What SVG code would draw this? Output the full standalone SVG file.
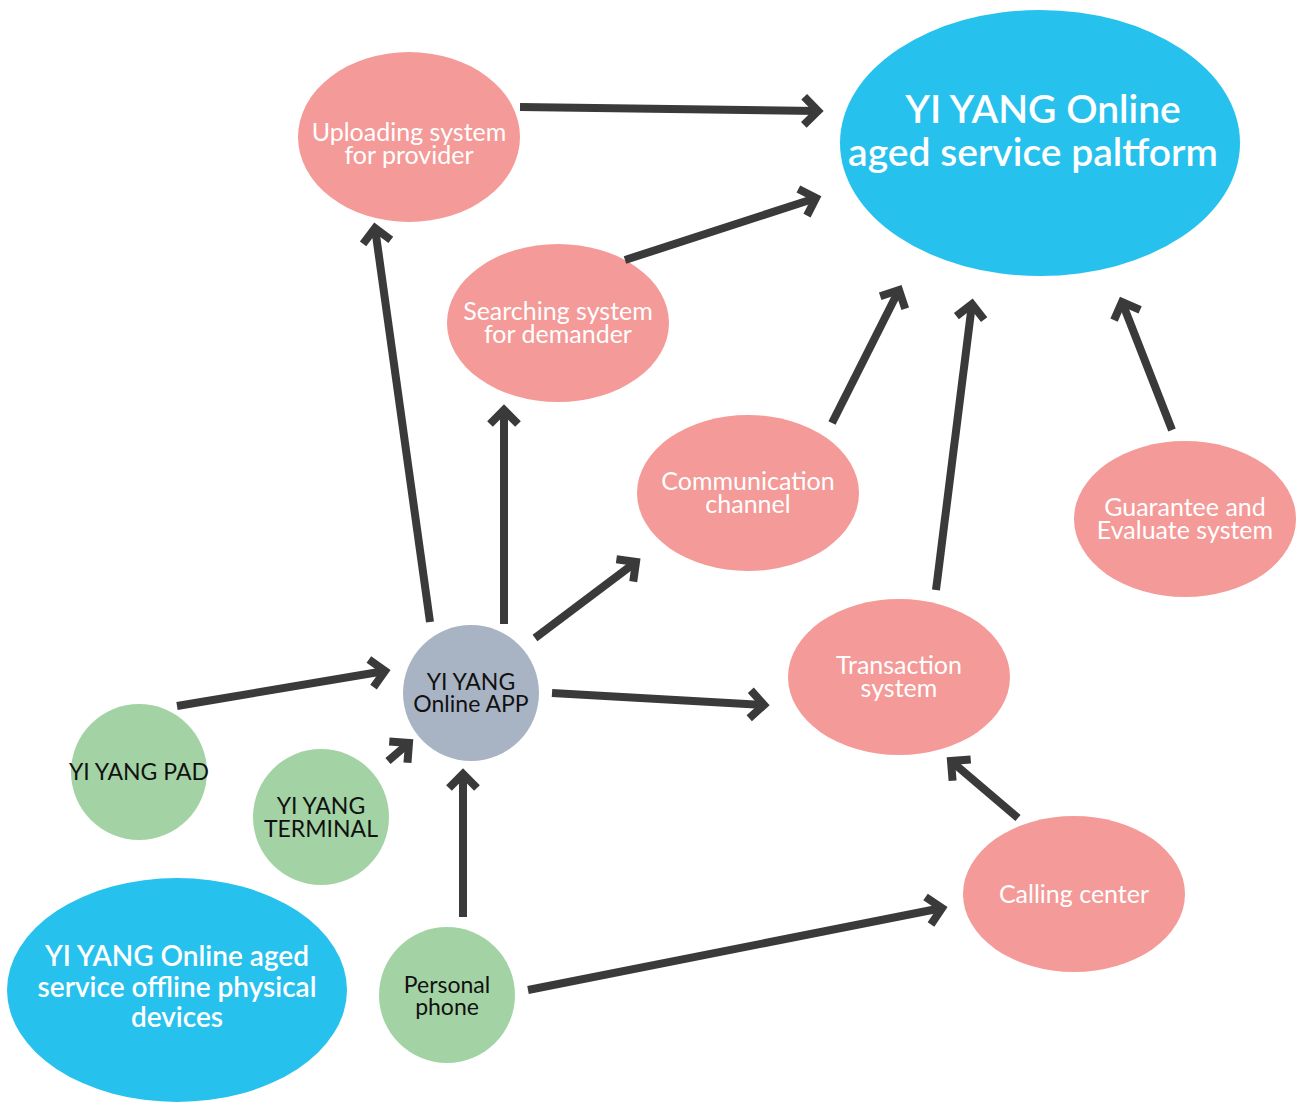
<svg xmlns="http://www.w3.org/2000/svg" width="1298" height="1102" viewBox="0 0 1298 1102">
<style>
.pink{fill:#f49a98}
.blue{fill:#27c1ee}
.green{fill:#a3d3a4}
.gray{fill:#a8b4c4}
text{font-family:Lato,"Open Sans","Liberation Sans",sans-serif;text-anchor:middle}
.wt{fill:#ffffff;font-size:25px}
.bk{fill:#111111;font-size:23px}
.big{fill:#ffffff;font-size:39px;font-weight:600}
.mid{fill:#ffffff;font-size:28px;font-weight:600}
.conn line{stroke:#3a3a3a;stroke-width:8;marker-end:url(#ah)}
</style>
<defs>
<marker id="ah" markerUnits="userSpaceOnUse" viewBox="-20 -20 26 40" markerWidth="26" markerHeight="40" refX="0" refY="0" orient="auto">
<path d="M-14,-14 L0,0 L-14,14" fill="none" stroke="#3a3a3a" stroke-width="8"/>
</marker>
</defs>
<rect width="1298" height="1102" fill="#ffffff"/>
<g id="platform"><ellipse class="blue" cx="1040" cy="143" rx="200" ry="133"/><text class="big" x="1043" y="123">YI YANG Online</text><text class="big" x="1033" y="166">aged service paltform</text></g>
<g id="uploading"><ellipse class="pink" cx="409" cy="137" rx="111" ry="85"/><text class="wt" x="409" y="141">Uploading system</text><text class="wt" x="409" y="164">for provider</text></g>
<g id="searching"><ellipse class="pink" cx="558" cy="323" rx="111" ry="79"/><text class="wt" x="558" y="320">Searching system</text><text class="wt" x="558" y="343">for demander</text></g>
<g id="communication"><ellipse class="pink" cx="748" cy="493" rx="111" ry="78"/><text class="wt" x="748" y="490">Communication</text><text class="wt" x="748" y="513">channel</text></g>
<g id="guarantee"><ellipse class="pink" cx="1185" cy="519" rx="111" ry="78"/><text class="wt" x="1185" y="516">Guarantee and</text><text class="wt" x="1185" y="539">Evaluate system</text></g>
<g id="transaction"><ellipse class="pink" cx="899" cy="677" rx="111" ry="78"/><text class="wt" x="899" y="674">Transaction</text><text class="wt" x="899" y="697">system</text></g>
<g id="calling"><ellipse class="pink" cx="1074" cy="894" rx="111" ry="78"/><text class="wt" x="1074" y="903">Calling center</text></g>
<g id="app"><circle class="gray" cx="471" cy="693" r="68"/><text class="bk" x="471" y="690">YI YANG</text><text class="bk" x="471" y="712">Online APP</text></g>
<g id="pad"><circle class="green" cx="139" cy="772" r="68"/><text class="bk" x="139" y="780">YI YANG PAD</text></g>
<g id="terminal"><circle class="green" cx="321" cy="817" r="68"/><text class="bk" x="321" y="814">YI YANG</text><text class="bk" x="321" y="837">TERMINAL</text></g>
<g id="phone"><circle class="green" cx="447" cy="995" r="68"/><text class="bk" x="447" y="993">Personal</text><text class="bk" x="447" y="1015">phone</text></g>
<g id="offline"><ellipse class="blue" cx="177" cy="990" rx="170" ry="112"/><text class="mid" x="177" y="966">YI YANG Online aged</text><text class="mid" x="177" y="997">service offline physical</text><text class="mid" x="177" y="1027">devices</text></g>
<g id="connectors" class="conn">
<line x1="520" y1="107" x2="818" y2="111"/>
<line x1="625" y1="260" x2="816" y2="198"/>
<line x1="832" y1="423" x2="899" y2="290"/>
<line x1="936" y1="590" x2="972" y2="304"/>
<line x1="1172" y1="430" x2="1122" y2="302"/>
<line x1="430" y1="622" x2="375" y2="228"/>
<line x1="504" y1="624" x2="504" y2="410"/>
<line x1="535" y1="638" x2="636" y2="562"/>
<line x1="552" y1="693" x2="764" y2="705"/>
<line x1="177" y1="706" x2="385" y2="671"/>
<line x1="388" y1="761" x2="409" y2="743"/>
<line x1="463" y1="917" x2="463" y2="774"/>
<line x1="1018" y1="818" x2="951" y2="761"/>
<line x1="528" y1="990" x2="942" y2="908"/>
</g>
</svg>
